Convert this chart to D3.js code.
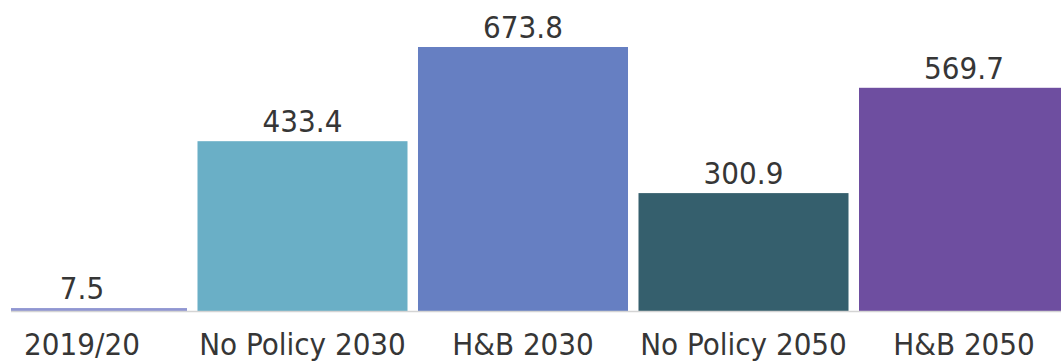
<!DOCTYPE html>
<html>
<head>
<meta charset="utf-8">
<script src="https://cdn.jsdelivr.net/npm/d3@7"></script>
<style>
  html, body { margin: 0; padding: 0; background: #ffffff; }
  svg { display: block; }
  text { font-family: "DejaVu Sans Condensed", "DejaVu Sans", sans-serif; font-stretch: condensed; fill: #363636; }
</style>
</head>
<body>
<svg id="chart" width="1061" height="361"></svg>
<script>
// Scenario categories and their values
const categories = ["2019/20", "No Policy 2030", "H&B 2030", "No Policy 2050", "H&B 2050"];
const values = [7.5, 433.4, 673.8, 300.9, 569.7];
const colors = ["#9096d2", "#6aafc6", "#667fc2", "#355f6d", "#6e4ea0"];

const width = 1061, height = 361;
const plotLeft = 11, baseline = 311;

const svg = d3.select("#chart");

const x = d3.scaleBand()
  .domain(categories)
  .range([-33.5, 1079.5])
  .padding(0.0476);

const y = d3.scaleLinear()
  .domain([0, 800])
  .range([baseline, baseline - 800 * 0.3918]);

svg.append("defs").append("clipPath").attr("id", "plot-clip")
  .append("rect")
  .attr("x", plotLeft).attr("y", 0)
  .attr("width", width - plotLeft).attr("height", height);

const plot = svg.append("g").attr("clip-path", "url(#plot-clip)");

plot.selectAll("rect.bar")
  .data(values)
  .join("rect")
  .attr("class", "bar")
  .attr("x", (d, i) => x(categories[i]))
  .attr("width", x.bandwidth())
  .attr("y", d => y(d))
  .attr("height", d => y(0) - y(d))
  .attr("fill", (d, i) => colors[i]);

// Baseline
svg.append("line")
  .attr("x1", plotLeft).attr("x2", width)
  .attr("y1", y(0) + 0.5).attr("y2", y(0) + 0.5)
  .attr("stroke", "#d4d4d4")
  .attr("stroke-width", 1.5);

// Value labels above bars
svg.selectAll("text.value")
  .data(values)
  .join("text")
  .attr("class", "value")
  .attr("x", (d, i) => x(categories[i]) + x.bandwidth() / 2)
  .attr("y", d => y(d) - 9)
  .attr("text-anchor", "middle")
  .attr("font-size", 31)
  .text(d => d.toFixed(1));

// Category axis
const axis = svg.append("g")
  .attr("transform", `translate(0,${baseline})`)
  .call(d3.axisBottom(x).tickSize(0).tickPadding(0));
axis.select(".domain").remove();
axis.selectAll("text")
  .attr("y", 44)
  .attr("dy", null)
  .attr("font-size", 31)
  .attr("fill", "#363636");
axis.attr("font-family", null).attr("font-size", null);
</script>
</body>
</html>
